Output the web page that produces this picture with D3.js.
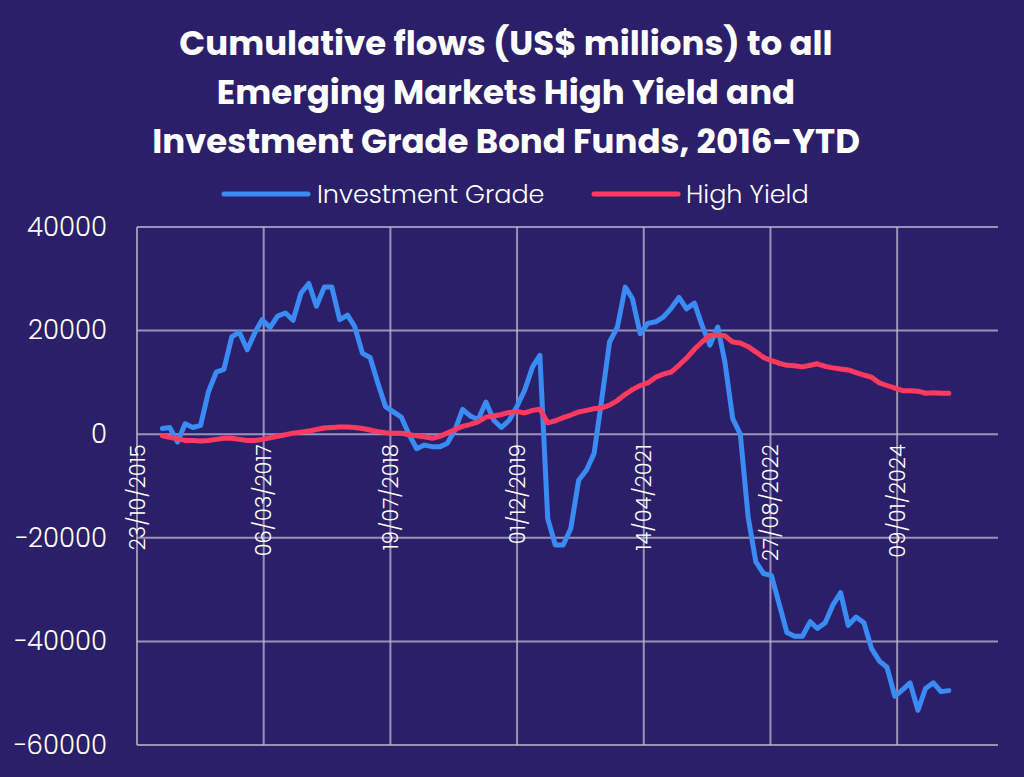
<!DOCTYPE html>
<html>
<head>
<meta charset="utf-8">
<script src="https://cdn.jsdelivr.net/npm/d3@7"></script>
<style>
html,body{margin:0;padding:0;background:#2c1f6a;}
svg{display:block;}
</style>
</head>
<body>
<svg id="chart" width="1024" height="777"></svg>
<script>
// ---- data (monthly, Jan 2016 – Jul 2024) ----
const investmentGrade = [1100,1300,-1500,2000,1300,1700,8200,12000,12500,18800,19700,16300,19700,22100,20600,22800,23400,22000,27200,29100,24700,28400,28400,22100,23000,20800,15600,14800,9800,5300,4300,3300,0,-2800,-2100,-2400,-2400,-1800,800,4800,3500,2800,6200,2700,1300,2700,5300,8500,13000,15200,-16300,-21400,-21400,-18200,-8900,-6900,-3700,7000,17800,20700,28400,26200,19400,21400,21700,22600,24300,26400,24200,25300,21000,17200,20700,14000,3000,0,-16000,-24600,-26900,-27300,-32700,-38300,-39000,-39000,-36200,-37500,-36400,-33000,-30600,-36900,-35300,-36400,-41400,-43800,-45000,-50600,-49300,-48000,-53300,-49100,-48000,-49700,-49500];
const highYield = [-300,-600,-900,-1200,-1200,-1300,-1200,-1000,-800,-800,-1000,-1200,-1200,-1000,-700,-400,-100,200,400,600,900,1200,1300,1400,1400,1300,1100,800,500,300,200,200,-100,-300,-500,-800,-400,200,900,1500,1900,2400,3300,3500,3800,4200,4400,4100,4600,4800,2200,2600,3200,3700,4300,4600,4900,5100,5600,6500,7700,8600,9400,9900,11000,11600,12000,13300,14700,16400,17800,19100,19100,19000,17800,17600,16900,15900,14800,14200,13700,13300,13200,13000,13300,13600,13100,12800,12600,12400,11900,11400,11000,9900,9400,8900,8400,8400,8300,7900,8000,7900,7900];
const xTickLabels = ["23/10/2015","06/03/2017","19/07/2018","01/12/2019","14/04/2021","27/08/2022","09/01/2024"];
const yTicks = [40000,20000,0,-20000,-40000,-60000];
const seriesNames = ["Investment Grade","High Yield"];
const seriesColors = ["#3a8cf4","#ff3a5e"];
const titleLines = ["Cumulative flows (US$ millions) to all","Emerging Markets High Yield and","Investment Grade Bond Funds, 2016-YTD"];

// ---- setup ----
const parse = d3.timeParse("%d/%m/%Y");
const months = d3.timeMonth.range(new Date(2016,0,1), new Date(2016,investmentGrade.length,1))
  .map(d => d3.timeDay.offset(d3.timeMonth.offset(d,1),-1));
const svg = d3.select("#chart");
const W = 1024, H = 777;
const font = "Poppins, 'Open Sans', sans-serif";
svg.append("rect").attr("width",W).attr("height",H).attr("fill","#2c1f6a");

const mLeft = 137, mRight = 998, mTop = 227, mBottom = 745;
const xTicks = xTickLabels.map(parse);
const x = d3.scaleTime()
  .domain([xTicks[0], d3.timeDay.offset(xTicks[0], 3398)])
  .range([mLeft, mRight]);
const y = d3.scaleLinear().domain([-60000, 40000]).range([mBottom, mTop]);

const gridColor = "rgba(190,186,210,0.75)";

svg.append("g").selectAll("line").data(yTicks).join("line")
  .attr("x1", mLeft).attr("x2", mRight)
  .attr("y1", d => y(d)).attr("y2", d => y(d))
  .attr("stroke", gridColor).attr("stroke-width", 2);
svg.append("g").selectAll("line").data(xTicks).join("line")
  .attr("x1", d => x(d)).attr("x2", d => x(d))
  .attr("y1", mTop).attr("y2", mBottom)
  .attr("stroke", gridColor).attr("stroke-width", 2);

const yAxis = d3.axisLeft(y).tickValues(yTicks).tickFormat(d3.format("d")).tickSize(0).tickPadding(30);
const gy = svg.append("g").attr("transform", `translate(${mLeft},0)`).call(yAxis);
gy.select(".domain").remove();
gy.selectAll("text").attr("fill","#ffffff").attr("font-family",font)
  .attr("font-size", 26).attr("font-weight", 300);

const line = d3.line().x((d,i) => x(months[i])).y(d => y(d));
[investmentGrade, highYield].forEach((s, k) => {
  svg.append("path").datum(s)
    .attr("d", line).attr("fill","none")
    .attr("stroke", seriesColors[k]).attr("stroke-width", 5)
    .attr("stroke-linejoin","round").attr("stroke-linecap","round");
});

svg.append("g").selectAll("text").data(xTicks).join("text")
  .attr("transform", d => `translate(${x(d)+7.5},${y(0)+10}) rotate(-90)`)
  .attr("text-anchor","end")
  .attr("fill","#ffffff")
  .attr("font-family",font)
  .attr("font-size", 21).attr("font-weight", 300)
  .text((d,i) => xTickLabels[i]);

svg.append("g").selectAll("text").data(titleLines).join("text")
  .attr("x", 506).attr("y", (d,i) => 55 + i*49)
  .attr("text-anchor","middle").attr("fill","#ffffff")
  .attr("font-family",font)
  .attr("font-weight", 700).attr("font-size", 34)
  .text(d => d);

const legendPos = [{lx:224, tx:317},{lx:594, tx:686}];
seriesNames.forEach((n,k) => {
  svg.append("line").attr("x1", legendPos[k].lx).attr("x2", legendPos[k].lx + 84)
    .attr("y1", 194).attr("y2", 194)
    .attr("stroke", seriesColors[k]).attr("stroke-width", 5).attr("stroke-linecap","round");
  svg.append("text").attr("x", legendPos[k].tx).attr("y", 203)
    .attr("fill","#ffffff").attr("font-family",font)
    .attr("font-size", 25.5).attr("font-weight", 300).text(n);
});
</script>
</body>
</html>
